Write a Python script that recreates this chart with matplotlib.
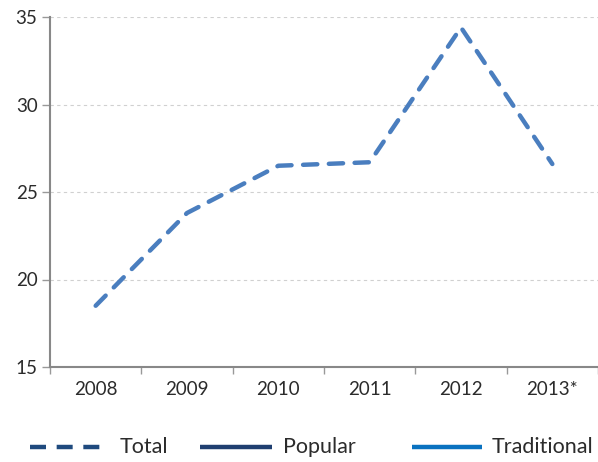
import matplotlib
matplotlib.use("Agg")
import matplotlib.pyplot as plt
from matplotlib.lines import Line2D
import numpy as np

categories = ["2008", "2009", "2010", "2011", "2012", "2013*"]
total = [18.5, 23.8, 26.5, 26.7, 34.4, 26.6]
yticks = [15, 20, 25, 30, 35]
legend_labels = ["Total", "Popular", "Traditional"]

plt.rcParams['font.family'] = ['Lato', 'DejaVu Sans']

W, H = 598, 462
fig = plt.figure(figsize=(W/100, H/100), dpi=100)
ax = fig.add_axes([50/W, 1-367/H, 548/W, 350/H])

x = np.arange(len(categories))
ax.plot(x, total, color="#4a7ebf", lw=3.2, dashes=(3.2, 2.6), dash_capstyle='round', solid_capstyle='round')

ax.set_ylim(15, 35)
ax.set_xlim(-0.5, -0.5 + 548/92)
ax.set_yticks(yticks)
ax.set_yticklabels([str(v) for v in yticks], fontsize=13.5, color="#2b2b2b")
ax.set_xticks(x)
ax.set_xticklabels(categories, fontsize=13.5, color="#2b2b2b")
ax.tick_params(axis='x', which='major', length=0, pad=10)
ax.set_xticks(np.arange(-0.5, 5.6, 1.0), minor=True)
ax.tick_params(axis='x', which='minor', length=5, color="#999999", width=1)
ax.tick_params(axis='y', length=6, color="#999999", width=1, pad=3)

for s in ["top", "right"]:
    ax.spines[s].set_visible(False)
for s in ["left", "bottom"]:
    ax.spines[s].set_color("#888888")
    ax.spines[s].set_linewidth(1.5)

ax.grid(axis='y', color="#d0d0d0", linestyle=(0, (3, 3)), lw=0.8)
ax.set_axisbelow(True)

# Manual legend
ly = 1 - 447/H
specs = [
    (30, 100, 120, "#1f4a7e", (3.6, 2.4)),
    (200, 272, 283, "#1f3f70", None),
    (412, 482, 492, "#0a72c0", None),
]
for (x0, x1, tx, col, dash), lab in zip(specs, legend_labels):
    ln = Line2D([x0/W, x1/W], [ly, ly], transform=fig.transFigure, color=col, lw=3.2,
                solid_capstyle='butt', dash_capstyle='butt')
    if dash:
        ln.set_dashes(dash)
    fig.add_artist(ln)
    fig.text(tx/W, ly, lab, fontsize=15.5, color="#2b2b2b", ha='left', va='center')

fig.savefig("out.png", dpi=100)
